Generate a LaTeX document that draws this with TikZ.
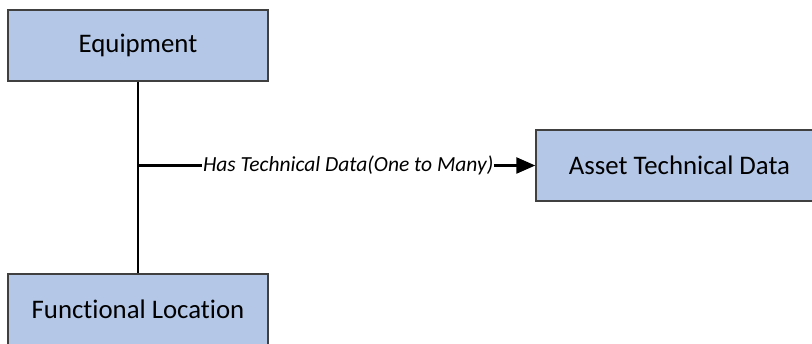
\documentclass[tikz,border=0pt]{standalone}
\usepackage{fontspec}
\setmainfont[Ligatures={NoCommon,NoRare}]{Carlito}
\usetikzlibrary{arrows.meta}
\definecolor{boxfill}{RGB}{180,199,231}
\definecolor{boxline}{RGB}{64,64,64}
\begin{document}
\begin{tikzpicture}[x=1pt,y=-1pt,
  entity/.style={draw=boxline,line width=1.4pt,fill=boxfill,minimum width=260pt,minimum height=71pt,inner sep=0pt,font=\fontsize{26.8}{31}\selectfont},
  conn/.style={line width=2.4pt,black},
  lbl/.style={fill=white,inner sep=1pt,font=\fontsize{21.5}{25}\selectfont\itshape}]
\useasboundingbox (0,0) rectangle (812,344);
\clip (0,0) rectangle (812,344);
\node[entity] (eq) at (138,45.5) {Equipment};
\node[entity] (fl) at (138,309.5) {Functional Location};
\node[entity,minimum width=287pt] (atd) at (679.5,165.5) {Asset Technical Data};
\coordinate (j) at (138,165.5);
\draw[conn] (eq.south) -- (fl.north);
\draw[conn,-{Triangle[length=19pt,width=16pt]}] (j) -- (atd.west)
  node[lbl,pos=0.529] {Has Technical Data(One to Many)};
\end{tikzpicture}
\end{document}
